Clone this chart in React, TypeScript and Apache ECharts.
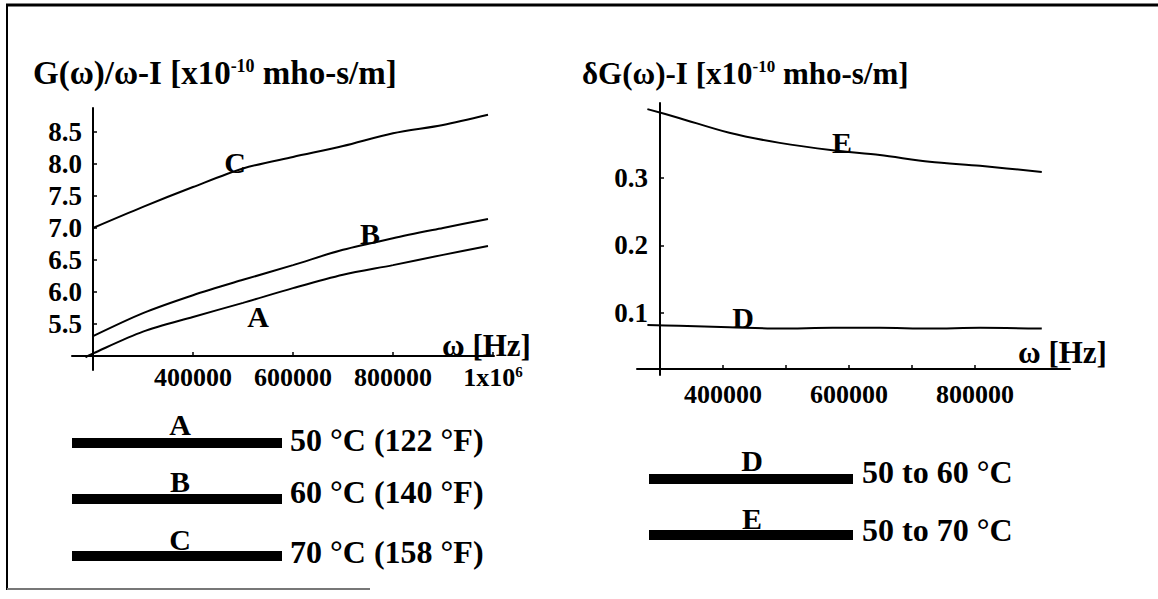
import React, { useEffect, useRef } from "react";
import * as echarts from "echarts";

// ---- data ----
const freqA = [185000, 200000, 300000, 400000, 500000, 600000, 700000, 800000, 900000, 990000];
const curveA = [4.98, 5.04, 5.38, 5.61, 5.83, 6.06, 6.27, 6.42, 6.58, 6.72];
const freqBC = [200000, 300000, 400000, 500000, 600000, 700000, 800000, 900000, 990000];
const curveB = [5.31, 5.67, 5.95, 6.19, 6.42, 6.66, 6.84, 7.0, 7.14];
const curveC = [7.0, 7.33, 7.64, 7.93, 8.11, 8.28, 8.48, 8.61, 8.77];

const freqDE = [280000, 330000, 410000, 490000, 574000, 649000, 728000, 808000, 906000];
const curveE = [0.402, 0.389, 0.367, 0.352, 0.341, 0.334, 0.324, 0.318, 0.309];
const curveD = [0.082, 0.081, 0.079, 0.077, 0.078, 0.078, 0.077, 0.078, 0.077];

const leftXTicks = [400000, 600000, 800000, 1000000];
const leftYTicks = [5.5, 6.0, 6.5, 7.0, 7.5, 8.0, 8.5];
const rightXTicks = [400000, 600000, 800000];
const rightXMinor = [400000, 500000, 600000, 700000, 800000];
const rightYTicks = [0.1, 0.2, 0.3];

const curveLabelsLeft: [string, number, number][] = [
  ["A", 530000, 5.61],
  ["B", 754000, 6.92],
  ["C", 484000, 8.03],
];
const curveLabelsRight: [string, number, number][] = [
  ["D", 432000, 0.094],
  ["E", 589000, 0.352],
];

const legendLeftKeys = ["A", "B", "C"];
const legendLeftTexts = ["50 °C (122 °F)", "60 °C (140 °F)", "70 °C (158 °F)"];
const legendRightKeys = ["D", "E"];
const legendRightTexts = ["50 to 60 °C", "50 to 70 °C"];

const FONT = '"Liberation Serif", "Times New Roman", serif';

function pairs(xs: number[], ys: number[]) {
  return xs.map((x, i) => [x, ys[i]]);
}

function labelMarks(list: [string, number, number][]) {
  return {
    symbol: "circle",
    symbolSize: 1,
    itemStyle: { color: "rgba(0,0,0,0)" },
    label: {
      show: true,
      position: "inside",
      formatter: (p: any) => p.name,
      color: "#000",
      fontFamily: FONT,
      fontWeight: "bold",
      fontSize: 30,
    },
    data: list.map(([n, x, y]) => ({ name: n, coord: [x, y] })),
  };
}

const lineSeries = (name: string, data: number[][], idx: number, marks?: any) => ({
  name,
  type: "line",
  xAxisIndex: idx,
  yAxisIndex: idx,
  data,
  showSymbol: false,
  smooth: 0.3,
  clip: false,
  lineStyle: { color: "#000", width: 2 },
  itemStyle: { color: "#000" },
  ...(marks ? { markPoint: marks } : {}),
});

const axisText = (size: number) => ({
  color: "#000",
  fontFamily: FONT,
  fontWeight: "bold" as const,
  fontSize: size,
});

export default function App() {
  const ref = useRef<HTMLDivElement>(null);
  useEffect(() => {
    if (!ref.current) return;
    const chart = echarts.init(ref.current, undefined, { renderer: "svg" });

    const legendGraphics: any[] = [];
    const leftLineY = [443, 499, 556];
    const leftLetterY = [424, 481, 539];
    const leftTextY = [440, 492, 552];
    legendLeftKeys.forEach((k, i) => {
      legendGraphics.push({
        type: "rect",
        shape: { x: 72, y: leftLineY[i] - 5, width: 210, height: 10 },
        style: { fill: "#000" },
      });
      legendGraphics.push({
        type: "text",
        x: 180,
        y: leftLetterY[i],
        style: { text: k, ...axisText(30), fill: "#000", align: "center", verticalAlign: "middle" },
      });
      legendGraphics.push({
        type: "text",
        x: 290,
        y: leftTextY[i],
        style: { text: legendLeftTexts[i], ...axisText(32), fill: "#000", align: "left", verticalAlign: "middle" },
      });
    });
    const rightLineY = [479, 535];
    const rightLetterY = [460, 518];
    const rightTextY = [472, 530];
    legendRightKeys.forEach((k, i) => {
      legendGraphics.push({
        type: "rect",
        shape: { x: 649, y: rightLineY[i] - 5, width: 204, height: 10 },
        style: { fill: "#000" },
      });
      legendGraphics.push({
        type: "text",
        x: 752,
        y: rightLetterY[i],
        style: { text: k, ...axisText(30), fill: "#000", align: "center", verticalAlign: "middle" },
      });
      legendGraphics.push({
        type: "text",
        x: 862,
        y: rightTextY[i],
        style: { text: legendRightTexts[i], ...axisText(32), fill: "#000", align: "left", verticalAlign: "middle" },
      });
    });

    const supRich = (size: number) => ({
      sup: { fontSize: size, fontWeight: "bold", fontFamily: FONT, color: "#000", padding: [0, 0, 14, 0] },
    });

    const option: any = {
      animation: false,
      backgroundColor: "#fff",
      grid: [
        { left: 72, top: 108, width: 422, height: 262 },
        { left: 637, top: 103, width: 433, height: 272 },
      ],
      xAxis: [
        {
          type: "value",
          gridIndex: 0,
          min: 158000,
          max: 1002000,
          offset: -14,
          axisLine: { onZero: false, lineStyle: { color: "#000", width: 2 } },
          splitLine: { show: false },
          axisTick: { customValues: leftXTicks, inside: true, length: 4, lineStyle: { color: "#000", width: 1.5 } },
          axisLabel: {
            customValues: leftXTicks,
            ...axisText(26),
            margin: 8,
            formatter: (v: number) => (v >= 1000000 ? "1x10{sup|6}" : String(v)),
            rich: { sup: { fontSize: 15, fontWeight: "bold", fontFamily: FONT, color: "#000", padding: [0, 0, 12, 0] } },
          },
        },
        {
          type: "value",
          gridIndex: 1,
          min: 263500,
          max: 950800,
          offset: -6,
          axisLine: { onZero: false, lineStyle: { color: "#000", width: 2 } },
          splitLine: { show: false },
          axisTick: { customValues: rightXMinor, inside: true, length: 4, lineStyle: { color: "#000", width: 1.5 } },
          axisLabel: {
            customValues: rightXTicks,
            ...axisText(26),
            margin: 12,
            formatter: (v: number) => String(v),
          },
        },
      ],
      yAxis: [
        {
          type: "value",
          gridIndex: 0,
          min: 4.781,
          max: 8.875,
          offset: -21,
          axisLine: { onZero: false, lineStyle: { color: "#000", width: 2 } },
          splitLine: { show: false },
          axisTick: { customValues: leftYTicks, inside: true, length: 4, lineStyle: { color: "#000", width: 1.5 } },
          axisLabel: {
            customValues: leftYTicks,
            ...axisText(27),
            margin: 11,
            formatter: (v: number) => v.toFixed(1),
          },
        },
        {
          type: "value",
          gridIndex: 1,
          min: 0.0081,
          max: 0.4111,
          offset: -23,
          axisLine: { onZero: false, lineStyle: { color: "#000", width: 2 } },
          splitLine: { show: false },
          axisTick: { customValues: rightYTicks, inside: true, length: 4, lineStyle: { color: "#000", width: 1.5 } },
          axisLabel: {
            customValues: rightYTicks,
            ...axisText(27),
            margin: 12,
            formatter: (v: number) => v.toFixed(1),
          },
        },
      ],
      series: [
        lineSeries("A", pairs(freqA, curveA), 0, labelMarks(curveLabelsLeft)),
        lineSeries("B", pairs(freqBC, curveB), 0),
        lineSeries("C", pairs(freqBC, curveC), 0),
        lineSeries("D", pairs(freqDE, curveD), 1, labelMarks(curveLabelsRight)),
        lineSeries("E", pairs(freqDE, curveE), 1),
      ],
      graphic: [
        // frame
        { type: "line", shape: { x1: 7, y1: 4, x2: 7, y2: 590 }, style: { stroke: "#000", lineWidth: 2 } },
        { type: "line", shape: { x1: 6, y1: 5, x2: 1158, y2: 5 }, style: { stroke: "#000", lineWidth: 3 } },
        { type: "line", shape: { x1: 7, y1: 589, x2: 370, y2: 589 }, style: { stroke: "#777", lineWidth: 2 } },
        // titles
        {
          type: "text",
          x: 33,
          y: 73,
          style: {
            text: "G(ω)/ω-I [x10{sup|-10} mho-s/m]",
            ...axisText(33),
            fill: "#000",
            verticalAlign: "middle",
            rich: supRich(18),
          },
        },
        {
          type: "text",
          x: 582,
          y: 73,
          style: {
            text: "δG(ω)-I [x10{sup|-10} mho-s/m]",
            ...axisText(31),
            fill: "#000",
            verticalAlign: "middle",
            rich: supRich(17),
          },
        },
        // axis names
        {
          type: "text",
          x: 442,
          y: 345,
          style: { text: "ω [Hz]", ...axisText(31), fill: "#000", verticalAlign: "middle" },
        },
        {
          type: "text",
          x: 1018,
          y: 352,
          style: { text: "ω [Hz]", ...axisText(31), fill: "#000", verticalAlign: "middle" },
        },
        ...legendGraphics,
      ],
    };
    chart.setOption(option);
    return () => chart.dispose();
  }, []);
  return (
    <div
      ref={ref}
      style={{ position: "fixed", left: 0, top: 0, width: 1158, height: 599, background: "#fff" }}
    />
  );
}
